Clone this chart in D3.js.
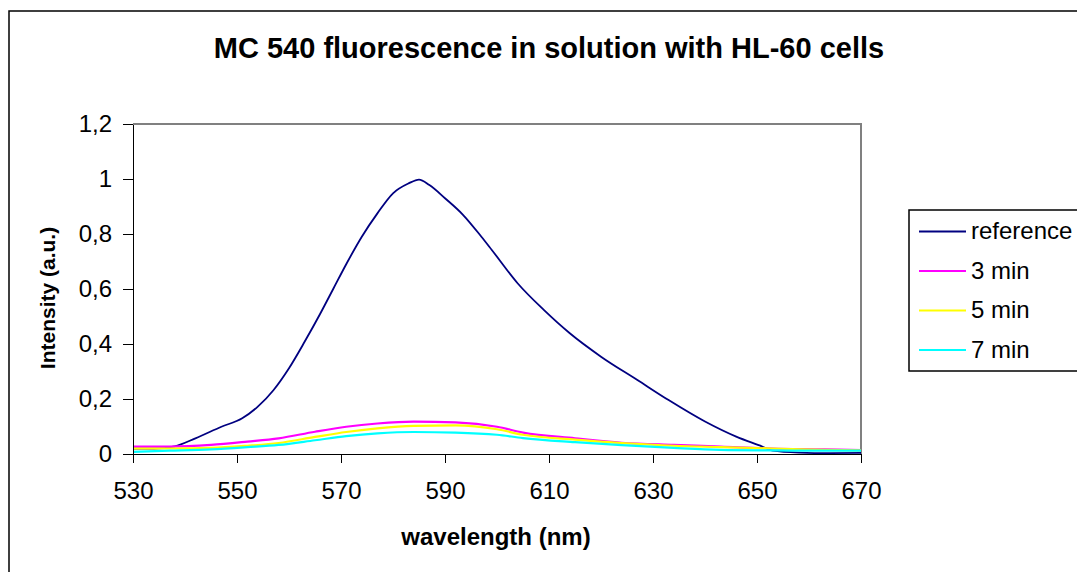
<!DOCTYPE html>
<html lang="en">
<head>
<meta charset="UTF-8">
<title>MC 540 fluorescence</title>
<style>
  body { margin: 0; background: #fff; }
  svg { display: block; font-family: Arial, "Liberation Sans", sans-serif; }
  .axis path, .axis line { stroke: #000; stroke-width: 1.5; shape-rendering: crispEdges; }
  .axis text { font-size: 24px; fill: #000; }
</style>
</head>
<body>
<div id="chart"></div>
<script src="https://d3js.org/d3.v7.min.js"></script>
<script>
// wavelengths (nm) and intensities
const wlRef  = [530, 534, 538, 542, 547, 551, 554, 557, 560, 563, 566, 568.5, 571, 574, 577, 580, 583, 585, 587, 590, 593.5, 597, 599, 604, 609, 614, 620, 627, 633, 640, 646, 651, 653, 658, 664, 670];
const valRef = [0.02, 0.02, 0.028, 0.057, 0.099, 0.13, 0.172, 0.232, 0.312, 0.408, 0.51, 0.60, 0.69, 0.79, 0.875, 0.948, 0.984, 0.998, 0.978, 0.93, 0.869, 0.79, 0.742, 0.62, 0.524, 0.439, 0.354, 0.269, 0.196, 0.118, 0.063, 0.027, 0.012, 0.005, 0.003, 0.004];

const wlLow  = [530, 537, 545, 552, 558, 565, 571, 577, 584, 592, 600, 605, 615, 624, 634, 643, 653, 663, 670];
const val3   = [0.027, 0.027, 0.033, 0.045, 0.057, 0.081, 0.099, 0.111, 0.118, 0.115, 0.099, 0.078, 0.057, 0.041, 0.033, 0.027, 0.02, 0.017, 0.014];
const val5   = [0.02, 0.02, 0.022, 0.03, 0.04, 0.062, 0.08, 0.093, 0.102, 0.104, 0.09, 0.07, 0.052, 0.04, 0.03, 0.025, 0.02, 0.015, 0.013];
const val7   = [0.008, 0.012, 0.017, 0.025, 0.033, 0.05, 0.065, 0.075, 0.08, 0.078, 0.07, 0.058, 0.043, 0.032, 0.022, 0.015, 0.013, 0.012, 0.012];

const seriesNames = ["reference", "3 min", "5 min", "7 min"];
const seriesColors = ["#000080", "#ff00ff", "#ffff00", "#00ffff"];
const xTicks = [530, 550, 570, 590, 610, 630, 650, 670];
const yTicks = [0, 0.2, 0.4, 0.6, 0.8, 1, 1.2];

const W = 1077, H = 572;
const plot = {left: 133, top: 124, right: 861, bottom: 454};

const svg = d3.select("#chart").append("svg")
  .attr("width", W).attr("height", H);

// outer chart frame
svg.append("rect")
  .attr("x", 9).attr("y", 11).attr("width", W + 10).attr("height", H + 10)
  .attr("fill", "#fff").attr("stroke", "#000").attr("stroke-width", 1.5);

const x = d3.scaleLinear().domain([530, 670]).range([plot.left, plot.right]);
const y = d3.scaleLinear().domain([0, 1.2]).range([plot.bottom, plot.top]);

// plot area frame (grey top/right)
svg.append("path")
  .attr("d", `M${plot.left},${plot.top}H${plot.right}V${plot.bottom}`)
  .attr("fill", "none").attr("stroke", "#808080").attr("stroke-width", 1.5)
  .attr("shape-rendering", "crispEdges");

const series = [
  {wl: wlRef, v: valRef},
  {wl: wlLow, v: val3},
  {wl: wlLow, v: val5},
  {wl: wlLow, v: val7}
];

const line = d3.line()
  .x(d => x(d[0])).y(d => y(d[1]))
  .curve(d3.curveMonotoneX);

series.forEach((s, i) => {
  svg.append("path")
    .datum(s.wl.map((w, j) => [w, s.v[j]]))
    .attr("d", line)
    .attr("fill", "none")
    .attr("stroke", seriesColors[i])
    .attr("stroke-width", i === 0 ? 1.8 : 2.2);
});

// axes
svg.append("g").attr("class", "axis")
  .attr("transform", `translate(0,${plot.bottom})`)
  .call(d3.axisBottom(x).tickValues(xTicks).tickSize(9).tickSizeOuter(0).tickPadding(19).tickFormat(d3.format("d")));

svg.append("g").attr("class", "axis")
  .attr("transform", `translate(${plot.left},0)`)
  .call(d3.axisLeft(y).tickValues(yTicks).tickSize(10).tickSizeOuter(0).tickPadding(11)
    .tickFormat(d => String(d).replace(".", ",")));

// titles
svg.append("text")
  .attr("x", 549).attr("y", 58).attr("text-anchor", "middle")
  .attr("font-size", 29).attr("font-weight", "bold")
  .text("MC 540 fluorescence in solution with HL-60 cells");

svg.append("text")
  .attr("x", 496).attr("y", 545).attr("text-anchor", "middle")
  .attr("font-size", 24).attr("font-weight", "bold")
  .text("wavelength (nm)");

svg.append("text")
  .attr("transform", "translate(55,298) rotate(-90)")
  .attr("text-anchor", "middle")
  .attr("font-size", 21).attr("font-weight", "bold")
  .text("Intensity (a.u.)");

// legend
const lg = svg.append("g").attr("transform", "translate(909,210)");
lg.append("rect")
  .attr("width", 180).attr("height", 161)
  .attr("fill", "#fff").attr("stroke", "#000").attr("stroke-width", 1.5);

seriesNames.forEach((name, i) => {
  const yy = 21.5 + i * 39.5;
  lg.append("line")
    .attr("x1", 10).attr("x2", 57).attr("y1", yy).attr("y2", yy)
    .attr("stroke", seriesColors[i]).attr("stroke-width", 2);
  lg.append("text")
    .attr("x", 62).attr("y", yy + 7.5)
    .attr("font-size", 24)
    .text(name);
});
</script>
</body>
</html>
